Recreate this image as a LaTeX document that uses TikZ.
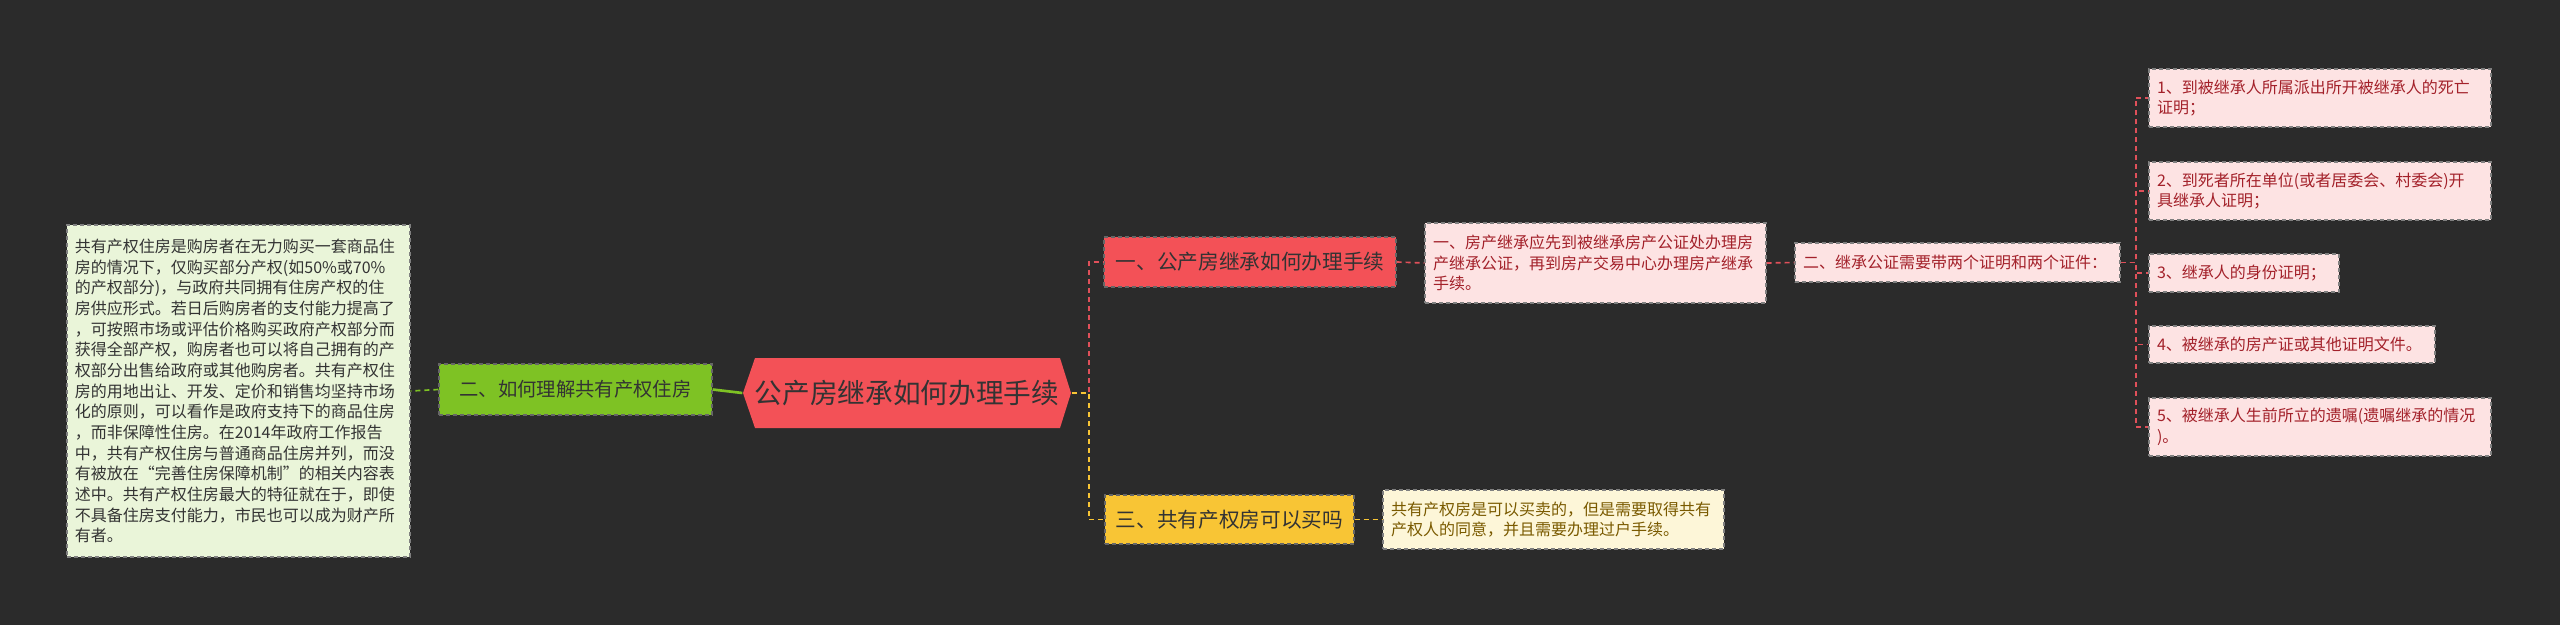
\documentclass[tikz,border=0pt]{standalone}
\usepackage{fontspec}
\setmainfont{Noto Sans CJK SC}
\begin{document}
\begin{tikzpicture}[x=0.3pt,y=-0.3pt,
 box/.style={draw=#1,dashed,dash pattern=on 1.2pt off 0.9pt,line width=0.4pt,inner sep=0pt,align=left,anchor=center},
 small/.style={font=\fontsize{4.8pt}{6.2pt}\selectfont},
 con/.style={dashed,dash pattern=on 1.5pt off 1.2pt,line width=0.5pt}]
\definecolor{bg}{HTML}{2B2B2B}
\definecolor{redn}{HTML}{F35157}
\definecolor{pinkf}{HTML}{FDE3E3}
\definecolor{pinkt}{HTML}{A3212A}
\definecolor{greenn}{HTML}{7EC224}
\definecolor{greenf}{HTML}{EAF5D9}
\definecolor{yel}{HTML}{F8C535}
\definecolor{yelf}{HTML}{FDF6D8}
\definecolor{yelt}{HTML}{7A5A00}
\definecolor{lcon}{HTML}{E0505A}
\fill[bg] (0,0) rectangle (2560,625);
\useasboundingbox (0,0) rectangle (2560,625);
% hexagon
\fill[redn] (743,393)--(755,358)--(1060,358)--(1071,393)--(1060,428)--(755,428)--cycle;
\node[inner sep=0pt,minimum width=328*0.3pt,minimum height=70*0.3pt,font=\fontsize{8.3pt}{9pt}\selectfont,text=black!80] (hex) at (907,393) {公产房继承如何办理手续};
% left side
\node[box=black!60,fill=greenn,minimum width=273*0.3pt,minimum height=51*0.3pt,font=\fontsize{5.8pt}{7pt}\selectfont,text=black!80] (g) at (575.5,389.5) {二、如何理解共有产权住房};
\node[box=black!50,fill=greenf,small,text=black!80,minimum height=332*0.3pt,text width=327*0.3pt,inner xsep=8*0.3pt] (gl) at (238.5,391) {共有产权住房是购房者在无力购买一套商品住\\房的情况下，仅购买部分产权(如50\%或70\%\\的产权部分)，与政府共同拥有住房产权的住\\房供应形式。若日后购房者的支付能力提高了\\，可按照市场或评估价格购买政府产权部分而\\获得全部产权，购房者也可以将自己拥有的产\\权部分出售给政府或其他购房者。共有产权住\\房的用地出让、开发、定价和销售均坚持市场\\化的原则，可以看作是政府支持下的商品住房\\，而非保障性住房。在2014年政府工作报告\\中，共有产权住房与普通商品住房并列，而没\\有被放在“完善住房保障机制”的相关内容表\\述中。共有产权住房最大的特征就在于，即使\\不具备住房支付能力，市民也可以成为财产所\\有者。};
% right side
\node[box=black!60,fill=redn,minimum width=292*0.3pt,minimum height=50*0.3pt,font=\fontsize{6.2pt}{7pt}\selectfont,text=black!80] (a) at (1250,262) {一、公产房继承如何办理手续};
\node[box=black!50,fill=pinkf,small,text=pinkt,minimum height=80*0.3pt,text width=325*0.3pt,inner xsep=8*0.3pt] (a1) at (1595.5,263) {一、房产继承应先到被继承房产公证处办理房\\产继承公证，再到房产交易中心办理房产继承\\手续。};
\node[box=black!50,fill=pinkf,small,text=pinkt,minimum height=39*0.3pt,text width=309*0.3pt,inner xsep=8*0.3pt] (a2) at (1957.5,262.5) {二、继承公证需要带两个证明和两个证件：};
\node[box=black!50,fill=pinkf,small,text=pinkt,minimum height=58*0.3pt,text width=326*0.3pt,inner xsep=8*0.3pt] (r1) at (2320,98) {1、到被继承人所属派出所开被继承人的死亡\\证明；};
\node[box=black!50,fill=pinkf,small,text=pinkt,minimum height=58*0.3pt,text width=326*0.3pt,inner xsep=8*0.3pt] (r2) at (2320,191) {2、到死者所在单位(或者居委会、村委会)开\\具继承人证明；};
\node[box=black!50,fill=pinkf,small,text=pinkt,minimum height=38*0.3pt,text width=174*0.3pt,inner xsep=8*0.3pt] (r3) at (2244,273) {3、继承人的身份证明；};
\node[box=black!50,fill=pinkf,small,text=pinkt,minimum height=37*0.3pt,text width=270*0.3pt,inner xsep=8*0.3pt] (r4) at (2292,344.5) {4、被继承的房产证或其他证明文件。};
\node[box=black!50,fill=pinkf,small,text=pinkt,minimum height=58*0.3pt,text width=326*0.3pt,inner xsep=8*0.3pt] (r5) at (2320,427) {5、被继承人生前所立的遗嘱(遗嘱继承的情况\\)。};
\node[box=black!60,fill=yel,minimum width=249*0.3pt,minimum height=49*0.3pt,font=\fontsize{6.2pt}{7pt}\selectfont,text=black!80] (b) at (1229.5,519.5) {三、共有产权房可以买吗};
\node[box=black!50,fill=yelf,small,text=yelt,minimum height=59*0.3pt,text width=325*0.3pt,inner xsep=8*0.3pt] (b1) at (1553.5,519.5) {共有产权房是可以买卖的，但是需要取得共有\\产权人的同意，并且需要办理过户手续。};
% connectors
\draw[greenn,line width=0.8pt] (hex.west) -- (g.east);
\draw[greenn,con] (g.west) -- (gl.east);
\draw[lcon,con] (hex.east) -- ++(17,0) |- (a.west);
\draw[yel,con] (hex.east) -- ++(17,0) |- (b.west);
\draw[lcon,con] (a.east) -- (a1.west);
\draw[lcon,con] (a1.east) -- (a2.west);
\foreach \r in {r1,r2,r3,r4,r5} \draw[lcon,con] (a2.east) -- ++(15,0) |- (\r.west);
\draw[yel,con] (b.east) -- (b1.west);
\end{tikzpicture}
\end{document}
